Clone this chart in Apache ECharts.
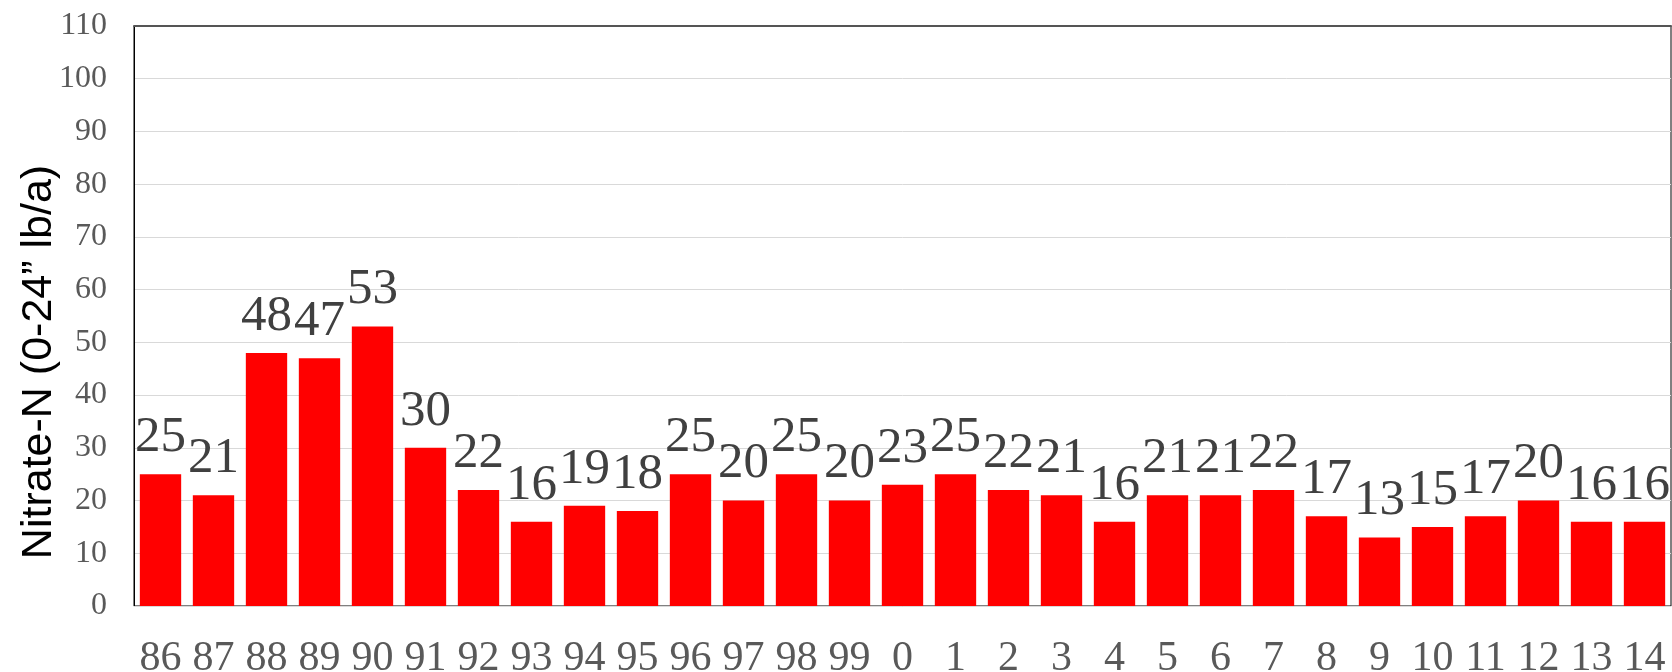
<!DOCTYPE html>
<html>
<head>
<meta charset="utf-8">
<script src="https://cdn.jsdelivr.net/npm/echarts@6/dist/echarts.min.js"></script>
<style>html,body{margin:0;padding:0;background:#fff;}#c{width:1672px;height:672px;}</style>
</head>
<body>
<div id="c"></div>
<script>
const categories = ['86','87','88','89','90','91','92','93','94','95','96','97','98','99','0','1','2','3','4','5','6','7','8','9','10','11','12','13','14'];
const values = [25,21,48,47,53,30,22,16,19,18,25,20,25,20,23,25,22,21,16,21,21,22,17,13,15,17,20,16,16];
const yTitle = 'Nitrate-N (0-24\u201d lb/a)';

const chart = echarts.init(document.getElementById('c'), null, {renderer: 'canvas'});
chart.setOption({
  animation: false,
  backgroundColor: '#fff',
  grid: {left: 134, right: 1, top: 26, bottom: 66, outerBoundsMode: 'none', containLabel: false, show: true, borderColor: '#000', borderWidth: 1, backgroundColor: 'transparent'},
  xAxis: [{
    type: 'category', data: categories, position: 'bottom',
    axisLine: {show: true, lineStyle: {color: '#d9d9d9', width: 1}},
    axisTick: {show: false},
    axisLabel: {color: '#595959', fontFamily: 'Liberation Serif', fontSize: 42, margin: 32, interval: 0}
  }, {
    type: 'category', data: categories, position: 'top',
    axisLine: {show: true, lineStyle: {color: '#555', width: 2}},
    axisTick: {show: false}, axisLabel: {show: false}
  }],
  yAxis: {
    type: 'value', min: 0, max: 110, interval: 10,
    axisLine: {show: true, lineStyle: {color: '#000', width: 1}},
    axisTick: {show: false},
    splitLine: {lineStyle: {color: '#d9d9d9', width: 1}},
    axisLabel: {color: '#595959', fontFamily: 'Liberation Serif', fontSize: 32, margin: 27}
  },
  graphic: [{
    type: 'text', x: 39, y: 362, rotation: Math.PI / 2,
    style: {text: yTitle, fill: '#000', font: '43px "Liberation Sans"', textAlign: 'center', textVerticalAlign: 'middle'}
  }],
  series: [{
    type: 'bar', data: values, xAxisIndex: 0,
    barCategoryGap: '22%',
    itemStyle: {color: '#ff0000'},
    label: {show: true, position: 'top', distance: 11, color: '#404040', fontFamily: 'Liberation Serif', fontSize: 51}
  }]
});
</script>
</body>
</html>
